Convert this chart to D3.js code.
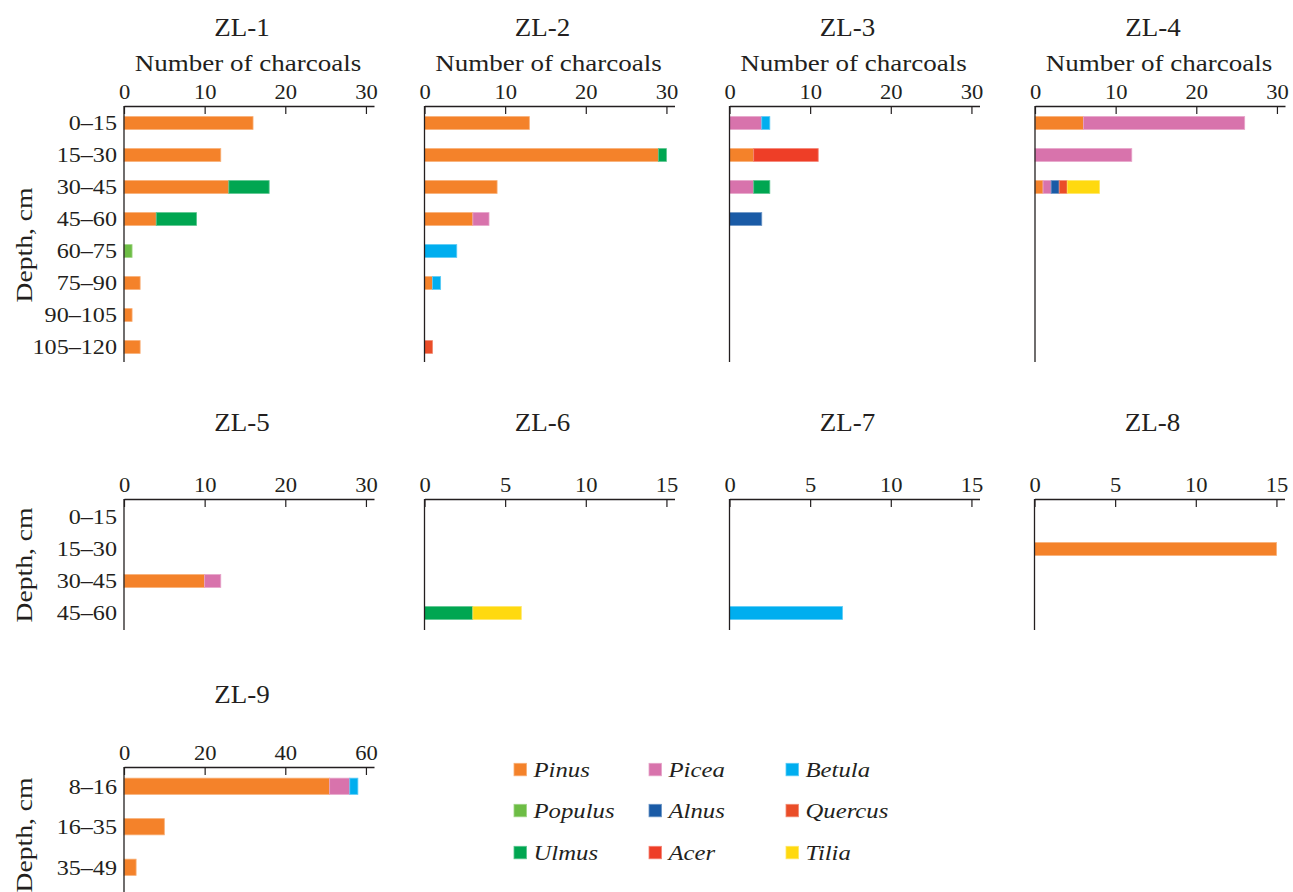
<!DOCTYPE html>
<html>
<head>
<meta charset="utf-8">
<script src="https://cdn.jsdelivr.net/npm/d3@7"></script>
<style>
  body { margin: 0; background: #fff; }
  svg { display: block; }
  text { font-family: "Liberation Serif", "Times New Roman", serif; fill: #231f20; }
</style>
</head>
<body>
<svg id="chart" width="1293" height="892"></svg>
<script>
// Taxa (stacking and legend order) and their colours
const species = ["Pinus", "Picea", "Betula", "Populus", "Alnus", "Quercus", "Ulmus", "Acer", "Tilia"];
const speciesColors = ["#f4822a", "#d873ac", "#00aeef", "#6dbd45", "#1a5ba6", "#ea4d28", "#00a651", "#ee3e27", "#ffd90f"];

// Depth intervals, cm
const depths8 = ["0–15", "15–30", "30–45", "45–60", "60–75", "75–90", "90–105", "105–120"];
const depths4 = ["0–15", "15–30", "30–45", "45–60"];
const depthsZL9 = ["8–16", "16–35", "35–49"];

// Tick values of the count axes
const ticks30 = [0, 10, 20, 30];
const ticks15 = [0, 5, 10, 15];
const ticks60 = [0, 20, 40, 60];

// Number of charcoals per taxon and depth interval, for each section
const zl1 = { Pinus: [16, 12, 13, 4, 0, 2, 1, 2], Populus: [0, 0, 0, 0, 1, 0, 0, 0], Ulmus: [0, 0, 5, 5, 0, 0, 0, 0] };
const zl2 = { Pinus: [13, 29, 9, 6, 0, 1, 0, 0], Picea: [0, 0, 0, 2, 0, 0, 0, 0], Betula: [0, 0, 0, 0, 4, 1, 0, 0],
              Quercus: [0, 0, 0, 0, 0, 0, 0, 1], Ulmus: [0, 1, 0, 0, 0, 0, 0, 0] };
const zl3 = { Pinus: [0, 3, 0, 0, 0, 0, 0, 0], Picea: [4, 0, 3, 0, 0, 0, 0, 0], Betula: [1, 0, 0, 0, 0, 0, 0, 0],
              Alnus: [0, 0, 0, 4, 0, 0, 0, 0], Ulmus: [0, 0, 2, 0, 0, 0, 0, 0], Acer: [0, 8, 0, 0, 0, 0, 0, 0] };
const zl4 = { Pinus: [6, 0, 1, 0, 0, 0, 0, 0], Picea: [20, 12, 1, 0, 0, 0, 0, 0], Alnus: [0, 0, 1, 0, 0, 0, 0, 0],
              Quercus: [0, 0, 1, 0, 0, 0, 0, 0], Tilia: [0, 0, 4, 0, 0, 0, 0, 0] };
const zl5 = { Pinus: [0, 0, 10, 0], Picea: [0, 0, 2, 0] };
const zl6 = { Ulmus: [0, 0, 0, 3], Tilia: [0, 0, 0, 3] };
const zl7 = { Betula: [0, 0, 0, 7] };
const zl8 = { Pinus: [0, 15, 0, 0] };
const zl9 = { Pinus: [51, 10, 3], Picea: [5, 0, 0], Betula: [2, 0, 0] };

const color = d3.scaleOrdinal(species, speciesColors);
const svg = d3.select("#chart");
const INK = "#231f20";
const SERIF = '"Liberation Serif", "Times New Roman", serif';

// Text drawn with a slight horizontal widening, like the typeface of the figure
function label(g, x, y, str, size, opts = {}) {
  const t = g.append("text")
    .attr("transform", `translate(${x},${y})${opts.rotate ? " rotate(-90)" : ""} scale(${opts.sx || 1.15},1)`)
    .attr("font-size", size)
    .attr("text-anchor", opts.anchor || "middle")
    .style("font-family", SERIF)
    .text(str);
  if (opts.italic) t.attr("font-style", "italic");
  return t;
}

const rows = {
  r1: { axisY: 106, bandTop: 107, bandBottom: 363, axisBottom: 362, titleY: 36, depthY: 245 },
  r2: { axisY: 499, bandTop: 501, bandBottom: 629, axisBottom: 630, titleY: 431, depthY: 565 },
  r3: { axisY: 767, bandTop: 766, bandBottom: 887.5, axisBottom: 892, titleY: 703, depthY: 835 }
};

const panels = [
  { name: "ZL-1", data: zl1, depths: depths8, ticks: ticks30, max: 31, x: 124, row: rows.r1, axisTitle: true, depthLabels: true },
  { name: "ZL-2", data: zl2, depths: depths8, ticks: ticks30, max: 31, x: 424.5, row: rows.r1, axisTitle: true },
  { name: "ZL-3", data: zl3, depths: depths8, ticks: ticks30, max: 31, x: 729.5, row: rows.r1, axisTitle: true },
  { name: "ZL-4", data: zl4, depths: depths8, ticks: ticks30, max: 31, x: 1035, row: rows.r1, axisTitle: true },
  { name: "ZL-5", data: zl5, depths: depths4, ticks: ticks30, max: 31, x: 124, row: rows.r2, depthLabels: true },
  { name: "ZL-6", data: zl6, depths: depths4, ticks: ticks15, max: 15.5, x: 424.5, row: rows.r2 },
  { name: "ZL-7", data: zl7, depths: depths4, ticks: ticks15, max: 15.5, x: 729.5, row: rows.r2 },
  { name: "ZL-8", data: zl8, depths: depths4, ticks: ticks15, max: 15.5, x: 1034.5, row: rows.r2 },
  { name: "ZL-9", data: zl9, depths: depthsZL9, ticks: ticks60, max: 62, x: 124, row: rows.r3, depthLabels: true }
];

const PANEL_W = 250;

panels.forEach(p => {
  const g = svg.append("g");
  const r = p.row;
  const x = d3.scaleLinear().domain([0, p.max]).range([p.x, p.x + PANEL_W]);
  const y = d3.scaleBand().domain(p.depths).range([r.bandTop, r.bandBottom]).padding(0);
  const step = y.step();
  const barH = step * 0.4;

  // stacked bars
  const table = p.depths.map((d, i) => {
    const o = { depth: d };
    species.forEach(s => { o[s] = p.data[s] ? p.data[s][i] : 0; });
    return o;
  });
  const stacked = d3.stack().keys(species)(table);
  stacked.forEach(layer => {
    const c = color(layer.key);
    g.append("g").selectAll("rect")
      .data(layer.filter(d => d[1] - d[0] > 0))
      .join("rect")
      .attr("x", d => x(d[0]))
      .attr("y", d => y(d.data.depth) + (step - barH) / 2)
      .attr("width", d => x(d[1]) - x(d[0]))
      .attr("height", barH)
      .attr("fill", c)
      .attr("stroke", d3.interpolateRgb(c, "#ffffff")(0.35))
      .attr("stroke-width", 0.8);
  });

  // top count axis with inward ticks
  const ax = g.append("g")
    .attr("transform", `translate(0,${r.axisY})`)
    .call(d3.axisTop(x).tickValues(p.ticks).tickFormat(d3.format("d"))
      .tickSizeInner(-8).tickSizeOuter(0).tickPadding(7.5));
  ax.attr("font-family", null).attr("font-size", null);
  ax.select(".domain").attr("stroke", INK).attr("stroke-width", 1.3);
  ax.selectAll(".tick line").attr("stroke", INK).attr("stroke-width", 1.2);
  ax.selectAll(".tick text")
    .style("font-family", SERIF)
    .attr("font-size", 20.5)
    .attr("fill", INK)
    .attr("transform", "scale(1.1,1)");

  // depth axis line
  g.append("line")
    .attr("x1", p.x).attr("x2", p.x)
    .attr("y1", r.axisY).attr("y2", r.axisBottom)
    .attr("stroke", INK).attr("stroke-width", 1.3);

  // section title and axis title
  label(g, p.x + 118, r.titleY, p.name, 25, { sx: 1.08 });
  if (p.axisTitle) label(g, p.x + 124, r.axisY - 35, "Number of charcoals", 23.5);

  // depth labels
  if (p.depthLabels) {
    p.depths.forEach(d => {
      label(g, p.x - 7, y(d) + step / 2 + 7.3, d, 21, { anchor: "end" });
    });
    label(g, 32, r.depthY, "Depth, cm", 24, { rotate: true });
  }
});

// legend: three columns of taxa
const legendCols = [514, 649, 786];
const legendRows = [769.5, 810.5, 852.5];
const legend = svg.append("g");
species.forEach((s, i) => {
  const lx = legendCols[i % 3];
  const ly = legendRows[Math.floor(i / 3)];
  const c = color(s);
  legend.append("rect")
    .attr("x", lx).attr("y", ly - 6.2)
    .attr("width", 12.5).attr("height", 12.5)
    .attr("fill", c)
    .attr("stroke", d3.interpolateRgb(c, "#ffffff")(0.35))
    .attr("stroke-width", 0.8);
  label(legend, lx + 19.5, ly + 7.3, s, 21.5, { anchor: "start", italic: true });
});
</script>
</body>
</html>
